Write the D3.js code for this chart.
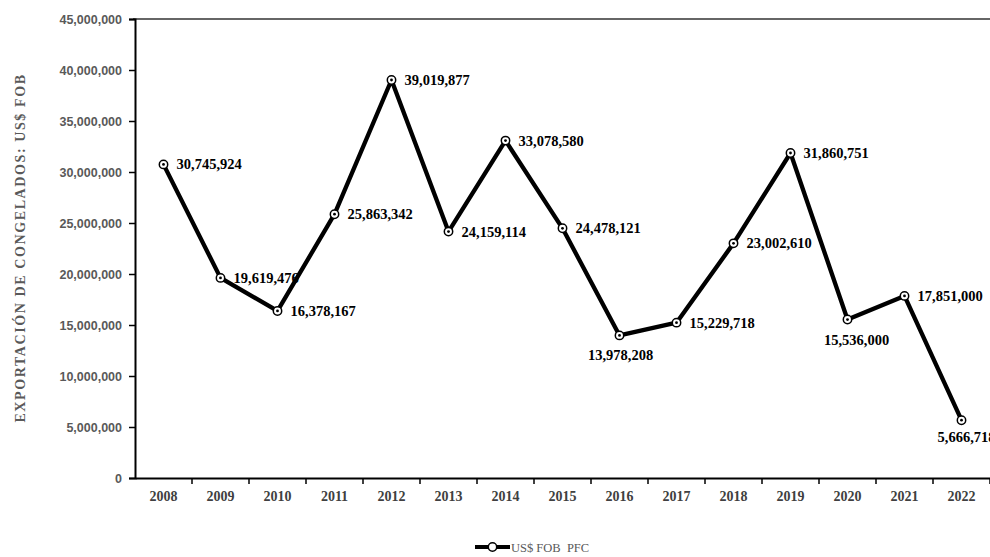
<!DOCTYPE html>
<html><head><meta charset="utf-8">
<script src="https://cdn.jsdelivr.net/npm/d3@7"></script>
<style>body{margin:0;background:#fff}svg{display:block}</style>
</head><body>
<script>
const years = ["2008","2009","2010","2011","2012","2013","2014","2015","2016","2017","2018","2019","2020","2021","2022"];
const values = [30745924,19619476,16378167,25863342,39019877,24159114,33078580,24478121,13978208,15229718,23002610,31860751,15536000,17851000,5666718];
const yTicks = [0,5000000,10000000,15000000,20000000,25000000,30000000,35000000,40000000,45000000];
// label placement: "r" right of point, "b" below point
const labelPos = ["r","r","r","r","r","r","r","r","b","r","r","r","b","r","b"];
const seriesName = "US$ FOB  PFC";
const yTitle = "EXPORTACIÓN DE CONGELADOS: US$ FOB";

const W = 990, H = 557;
const svg = d3.select("body").append("svg").attr("width", W).attr("height", H);

const x = d3.scaleBand().domain(years).range([135, 990]);
const y = d3.scaleLinear().domain([0, 45000000]).range([478, 19]);

// top border of plot area
svg.append("line").attr("x1", 133).attr("x2", 990).attr("y1", y(45000000)).attr("y2", y(45000000))
  .attr("stroke", "#333").attr("stroke-width", 1.6);

// y axis
const yAxis = svg.append("g").attr("transform", "translate(135,0)")
  .call(d3.axisLeft(y).tickValues(yTicks).tickFormat(d3.format(",")).tickSize(6).tickPadding(7));
yAxis.select(".domain").attr("stroke", "#000").attr("stroke-width", 2);
yAxis.selectAll(".tick line").attr("stroke", "#000").attr("stroke-width", 1.5);
yAxis.selectAll("text").attr("font-family", "Liberation Sans, Arial, sans-serif")
  .attr("font-weight", "bold").attr("font-size", "12.5px").attr("fill", "#595959");

// x axis
const xAxis = svg.append("g").attr("transform", "translate(0,478)")
  .call(d3.axisBottom(x).tickSizeOuter(0).tickSize(0).tickPadding(13));
xAxis.select(".domain").attr("stroke", "#000").attr("stroke-width", 2);
xAxis.selectAll("text").attr("font-family", "Liberation Serif, Times New Roman, serif")
  .attr("font-weight", "bold").attr("font-size", "14px").attr("fill", "#404040");
// boundary tick marks
svg.append("g").selectAll("line").data(years).join("line")
  .attr("x1", d => x(d) + x.bandwidth()).attr("x2", d => x(d) + x.bandwidth())
  .attr("y1", 478).attr("y2", 484).attr("stroke", "#000").attr("stroke-width", 1.5);

// y title
svg.append("text").attr("transform", "translate(25,248) rotate(-90)")
  .attr("text-anchor", "middle").attr("font-family", "Liberation Serif, Times New Roman, serif")
  .attr("font-weight", "bold").attr("font-size", "14px").attr("letter-spacing", "1.6px")
  .attr("fill", "#595959").text(yTitle);

const cx = d => x(d) + x.bandwidth() / 2;
const data = years.map((yr, i) => ({yr, v: values[i], pos: labelPos[i]}));

// line
svg.append("path").datum(data)
  .attr("d", d3.line().x(d => cx(d.yr)).y(d => y(d.v)))
  .attr("fill", "none").attr("stroke", "#000").attr("stroke-width", 4.3).attr("stroke-linejoin", "round");

// markers
const mk = svg.append("g").selectAll("g").data(data).join("g")
  .attr("transform", d => `translate(${cx(d.yr)},${y(d.v)})`);
mk.append("circle").attr("r", 4.2).attr("fill", "#fff").attr("stroke", "#000").attr("stroke-width", 1.5);
mk.append("circle").attr("r", 1.4).attr("fill", "#000");

// data labels
const belowDx = {"2016": 1, "2020": 9, "2022": 5};
const belowDy = {"2016": 25, "2020": 25, "2022": 22};
svg.append("g").selectAll("text").data(data).join("text")
  .attr("x", d => d.pos === "r" ? cx(d.yr) + 13 : cx(d.yr) + belowDx[d.yr])
  .attr("y", d => d.pos === "r" ? y(d.v) + 5 : y(d.v) + belowDy[d.yr])
  .attr("text-anchor", d => d.pos === "r" ? "start" : "middle")
  .attr("font-family", "Liberation Serif, Times New Roman, serif")
  .attr("font-weight", "bold").attr("font-size", "14.5px").attr("fill", "#000")
  .text(d => d3.format(",")(d.v));

// legend
const lg = svg.append("g").attr("transform", "translate(475,547)");
lg.append("line").attr("x1", 0).attr("x2", 35).attr("y1", 0).attr("y2", 0).attr("stroke", "#000").attr("stroke-width", 4);
lg.append("circle").attr("cx", 17.5).attr("r", 4.2).attr("fill", "#fff").attr("stroke", "#000").attr("stroke-width", 1.5);
lg.append("text").attr("x", 36).attr("y", 4.5).attr("font-family", "Liberation Serif, Times New Roman, serif")
  .attr("font-size", "12.5px").attr("fill", "#595959").style("white-space", "pre").text(seriesName);
</script>
</body></html>
